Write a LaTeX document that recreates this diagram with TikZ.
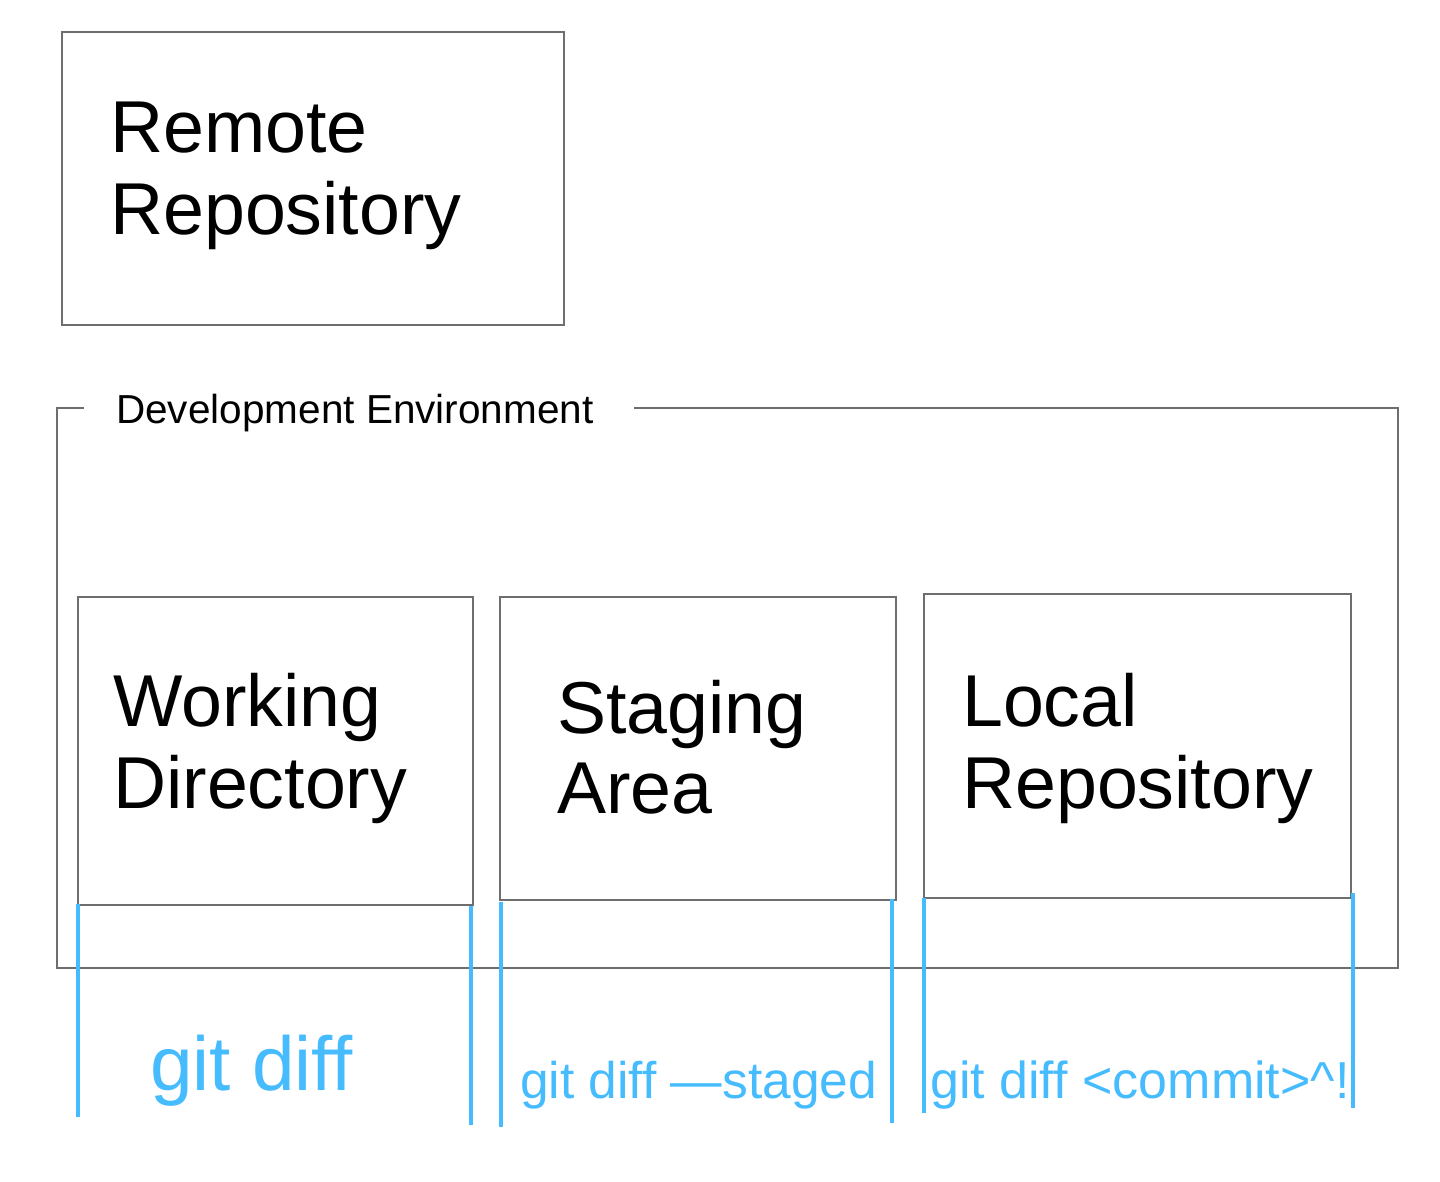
\documentclass[tikz,border=0pt]{standalone}
\usepackage{fontspec}
\setmainfont{Liberation Sans}
\definecolor{frame}{RGB}{110,110,110}
\definecolor{gitblue}{RGB}{70,188,255}
\tikzset{
  boxstyle/.style={draw=frame, line width=1.6pt, inner sep=0pt, anchor=north west},
  bigtext/.style={anchor=base west, inner sep=0pt, align=left, font=\fontsize{73.5}{82}\selectfont},
  cmdtext/.style={anchor=base west, inner sep=0pt, text=gitblue},
  blueline/.style={draw=gitblue, line width=3.2pt}
}
\begin{document}
\begin{tikzpicture}[x=1pt,y=-1pt]
\useasboundingbox (0,0) rectangle (1440,1182);
% remote
\node[boxstyle, minimum width=502pt, minimum height=293pt] (remote) at (61,31) {};
\node[bigtext] (remotetxt) at (110,235) {Remote\\Repository};
% development environment frame
\coordinate (envA) at (84,408);
\coordinate (envB) at (634,408);
\draw[frame, line width=1.6pt] (envA) -- (57,408) -- (57,968) -- (1398,968) -- (1398,408) -- (envB);
\node[anchor=base west, inner sep=0pt, font=\fontsize{40.5}{48}\selectfont] (envlabel) at (116,423) {Development Environment};
% inner boxes
\node[boxstyle, minimum width=395pt, minimum height=308pt] (wd) at (77,596) {};
\node[boxstyle, minimum width=396pt, minimum height=303pt] (sa) at (499,596) {};
\node[boxstyle, minimum width=427pt, minimum height=304pt] (lr) at (923,593) {};
\node[bigtext] (wdtxt) at (113,808) {Working\\Directory};
\node[bigtext, font=\fontsize{73.5}{80}\selectfont] (satxt) at (557,813) {Staging\\Area};
\node[bigtext] (lrtxt) at (962,808) {Local\\Repository};
% blue brackets
\coordinate (b1t) at (78,904);  \coordinate (b1b) at (78,1117);
\coordinate (b2t) at (471,906); \coordinate (b2b) at (471,1125);
\coordinate (b3t) at (501,902); \coordinate (b3b) at (501,1127);
\coordinate (b4t) at (892,899); \coordinate (b4b) at (892,1123);
\coordinate (b5t) at (924,898); \coordinate (b5b) at (924,1113);
\coordinate (b6t) at (1353,893); \coordinate (b6b) at (1353,1108);
\draw[blueline] (b1t) -- (b1b);
\draw[blueline] (b2t) -- (b2b);
\draw[blueline] (b3t) -- (b3b);
\draw[blueline] (b4t) -- (b4b);
\draw[blueline] (b5t) -- (b5b);
\draw[blueline] (b6t) -- (b6b);
\node[cmdtext, font=\fontsize{76.5}{80}\selectfont] (cmd1) at (150,1090) {git diff};
\node[cmdtext, font=\fontsize{51.5}{56}\selectfont] (cmd2) at (520,1098) {git diff —staged};
\node[cmdtext, font=\fontsize{52}{56}\selectfont] (cmd3) at (930,1098) {git diff <commit>\^{}!};
\end{tikzpicture}
\end{document}
